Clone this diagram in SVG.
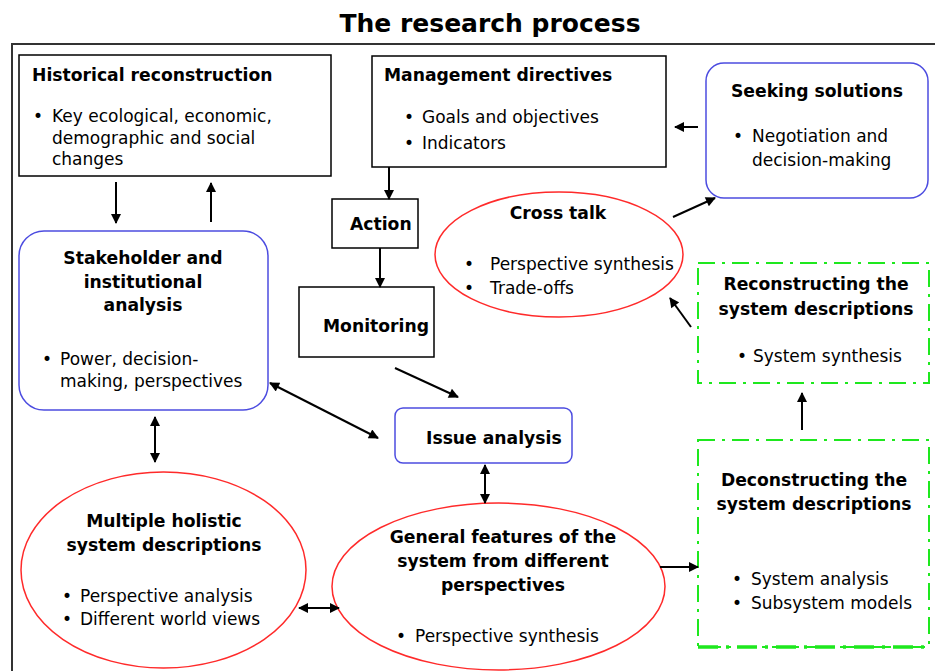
<svg xmlns="http://www.w3.org/2000/svg" width="935" height="671" viewBox="0 0 935 671">
<defs>
<marker id="ah" viewBox="0 0 10 10" refX="9" refY="5" markerWidth="12" markerHeight="10" markerUnits="userSpaceOnUse" orient="auto-start-reverse">
<path d="M0,0 L10,5 L0,10 z" fill="#000"/>
</marker>
<style>
.t{font-family:"DejaVu Sans","Liberation Sans",sans-serif;font-size:17.2px;font-weight:bold;fill:#000}
.b{font-family:"DejaVu Sans","Liberation Sans",sans-serif;font-size:17px;fill:#000}
.c{text-anchor:middle}
.box{fill:#fff;stroke:#000;stroke-width:1.5}
.blue{fill:#fff;stroke:#4c4ce0;stroke-width:1.5}
.red{fill:#fff;stroke:#ff2a2a;stroke-width:1.5}
.green{fill:#fff;stroke:#1ee81e;stroke-width:2;stroke-dasharray:17,7,3,7}
.arr{stroke:#000;stroke-width:2;fill:none;marker-end:url(#ah)}
.dbl{stroke:#000;stroke-width:2;fill:none;marker-end:url(#ah);marker-start:url(#ah)}
</style>
</defs>
<rect width="935" height="671" fill="#fff"/>
<text x="490" y="32" class="c" style="font-family:'DejaVu Sans','Liberation Sans',sans-serif;font-size:25px;font-weight:bold">The research process</text>
<path d="M12,671 L12,44 L935,44" fill="none" stroke="#333" stroke-width="2"/>

<g id="historical">
<rect class="box" x="19" y="55" width="312" height="121"/>
<text class="t" x="32" y="81">Historical reconstruction</text>
<text class="b" x="33" y="122">•</text>
<text class="b" x="52" y="122">Key ecological, economic,</text>
<text class="b" x="52" y="143.5">demographic and social</text>
<text class="b" x="52" y="165">changes</text>
</g>

<g id="management">
<rect class="box" x="372" y="56" width="294" height="111"/>
<text class="t" x="384" y="81">Management directives</text>
<text class="b" x="404" y="123">•</text>
<text class="b" x="422" y="123">Goals and objectives</text>
<text class="b" x="404" y="149">•</text>
<text class="b" x="422" y="149">Indicators</text>
</g>

<g id="seeking">
<rect class="blue" x="706" y="63" width="222" height="135" rx="18"/>
<text class="t c" x="817" y="97">Seeking solutions</text>
<text class="b" x="733" y="142">•</text>
<text class="b" x="752" y="142">Negotiation and</text>
<text class="b" x="752" y="166">decision-making</text>
</g>

<g id="action">
<rect class="box" x="332" y="199" width="86" height="49"/>
<text class="t" x="350" y="230">Action</text>
</g>

<g id="monitoring">
<rect class="box" x="299" y="287" width="135" height="70"/>
<text class="t" x="323" y="332">Monitoring</text>
</g>

<g id="stakeholder">
<rect class="blue" x="19" y="231" width="249" height="179" rx="25"/>
<text class="t c" x="143" y="264">Stakeholder and</text>
<text class="t c" x="143" y="288">institutional</text>
<text class="t c" x="143" y="311">analysis</text>
<text class="b" x="42" y="365">•</text>
<text class="b" x="60" y="365">Power, decision-</text>
<text class="b" x="60" y="387">making, perspectives</text>
</g>

<g id="crosstalk">
<ellipse class="red" cx="559" cy="254.5" rx="124" ry="62.5"/>
<text class="t c" x="558" y="219">Cross talk</text>
<text class="b" x="464" y="270">•</text>
<text class="b" x="490" y="270">Perspective synthesis</text>
<text class="b" x="464" y="294">•</text>
<text class="b" x="490" y="294">Trade-offs</text>
</g>

<g id="reconstructing">
<rect class="green" x="698" y="263" width="231" height="120"/>
<text class="t c" x="816" y="290">Reconstructing the</text>
<text class="t c" x="816" y="315">system descriptions</text>
<text class="b" x="737" y="362">•</text>
<text class="b" x="753" y="362">System synthesis</text>
</g>

<g id="issue">
<rect class="blue" x="395" y="408" width="177" height="55" rx="8"/>
<text class="t" x="426" y="444">Issue analysis</text>
</g>

<g id="multiple">
<ellipse class="red" cx="163.5" cy="570" rx="142.5" ry="98"/>
<text class="t c" x="164" y="527">Multiple holistic</text>
<text class="t c" x="164" y="551">system descriptions</text>
<text class="b" x="62" y="602">•</text>
<text class="b" x="80" y="602">Perspective analysis</text>
<text class="b" x="62" y="625">•</text>
<text class="b" x="80" y="625">Different world views</text>
</g>

<g id="general">
<ellipse class="red" cx="498.5" cy="586.5" rx="166.5" ry="83.5"/>
<text class="t c" x="503" y="543">General features of the</text>
<text class="t c" x="503" y="567">system from different</text>
<text class="t c" x="503" y="591">perspectives</text>
<text class="b" x="396" y="642">•</text>
<text class="b" x="415" y="642">Perspective synthesis</text>
</g>

<g id="deconstructing">
<rect class="green" x="698" y="440" width="231" height="207"/>
<line x1="698" y1="647" x2="929" y2="647" stroke="#1ee81e" stroke-width="3.5" stroke-dasharray="20,8,3,8"/>
<text class="t c" x="814" y="486">Deconstructing the</text>
<text class="t c" x="814" y="510">system descriptions</text>
<text class="b" x="732" y="585">•</text>
<text class="b" x="751" y="585">System analysis</text>
<text class="b" x="732" y="609">•</text>
<text class="b" x="751" y="609">Subsystem models</text>
</g>

<g id="connectors">
<line class="arr" x1="116" y1="182" x2="116" y2="223"/>
<line class="arr" x1="211" y1="222" x2="211" y2="183"/>
<line class="arr" x1="389" y1="167" x2="389" y2="199" stroke-width="3"/>
<line class="arr" x1="380" y1="248" x2="380" y2="287" stroke-width="2.5"/>
<line class="arr" x1="698" y1="127" x2="675" y2="127"/>
<line class="arr" x1="673" y1="217" x2="715" y2="198"/>
<line class="arr" x1="691" y1="327" x2="670" y2="298"/>
<line class="arr" x1="395" y1="368" x2="458" y2="397"/>
<line class="dbl" x1="270" y1="383" x2="378" y2="438"/>
<line class="arr" x1="802" y1="430" x2="802" y2="393"/>
<line class="dbl" x1="155" y1="417" x2="155" y2="462"/>
<line class="dbl" x1="485" y1="465" x2="485" y2="503" stroke-width="3"/>
<line class="dbl" x1="299" y1="608" x2="339" y2="608" stroke-width="3"/>
<line class="arr" x1="660" y1="567" x2="698" y2="567" stroke-width="3"/>
</g>
</svg>
